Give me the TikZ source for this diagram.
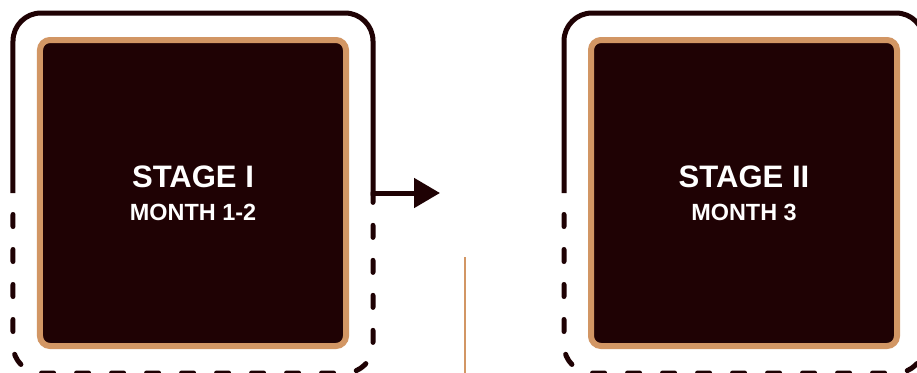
\documentclass[tikz,border=0pt]{standalone}
\usepackage{fontspec}
\setmainfont{Liberation Sans}
\usetikzlibrary{arrows.meta,positioning}
\definecolor{StageDark}{RGB}{31,2,4}
\definecolor{StageOrange}{RGB}{210,150,100}
\tikzset{
  stagebox/.style={draw=StageOrange,fill=StageDark,line width=0.18cm,
    rounded corners=0.3cm,minimum size=9.18cm,inner sep=0pt,
    text=white,align=center,font=\bfseries},
  frame/.style={StageDark,line width=0.15cm,rounded corners=0.84cm},
  dashframe/.style={frame,line cap=round,
    dash pattern=on 0.36cm off 0.69cm,dash phase=0.405cm},
  arrow/.style={-{Triangle[length=0.78cm,width=0.87cm]},StageDark,
    line width=0.15cm},
  divider/.style={StageOrange,line width=0.075cm}
}

\begin{document}
\begin{tikzpicture}
      \clip (-5.79,-5.37) rectangle (21.72,5.79);
      \node[stagebox] (s1) at (0,0)
        {\fontsize{26.5}{29}\selectfont STAGE I\\[13pt]
         \fontsize{20}{24}\selectfont MONTH 1-2};
      \node[stagebox,right=7.17cm of s1] (s2)
        {\fontsize{26.5}{29}\selectfont STAGE II\\[13pt]
         \fontsize{20}{24}\selectfont MONTH 3};

      % frames round the stages
      \foreach \s in {s1,s2}{
        \begin{scope}[shift={(\s.center)}]
          \draw[frame] (-5.4,0) -- (-5.4,5.4) -- (5.4,5.4) -- (5.4,-0.075);
          \draw[dashframe] (-5.4,0) -- (-5.4,-5.4) -- (5.4,-5.4) -- (5.4,0);
        \end{scope}
      }

      \coordinate (s1out) at ([shift={(7.41,0)}]s1.center);
      \draw[arrow] ([shift={(5.325,0)}]s1.center) -- (s1out);

      \coordinate (gaptop) at ([shift={(8.16,-1.92)}]s1.center);
      \coordinate (gapbot) at ([shift={(8.16,-5.6)}]s1.center);
      \draw[divider] (gaptop) -- (gapbot);
    \end{tikzpicture}
\end{document}
